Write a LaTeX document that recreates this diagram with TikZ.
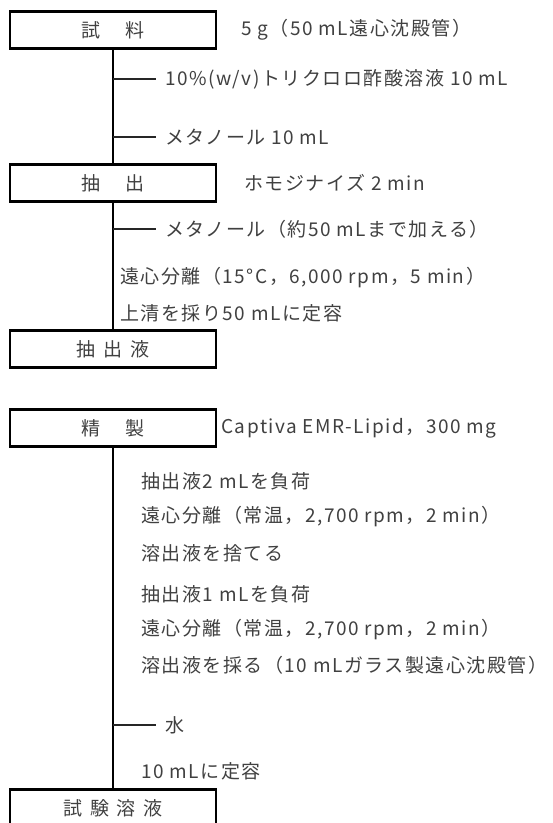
\documentclass[tikz,border=0pt]{standalone}
\usepackage{fontspec}
\setmainfont{Noto Sans CJK JP}[LetterSpace=8]
\definecolor{txtgray}{HTML}{404040}
\newcommand{\fs}{\fontsize{19bp}{22bp}\selectfont}
\begin{document}
\begin{tikzpicture}[x=1bp,y=-1bp,
  box/.style={draw=black, line width=2.2bp, minimum width=206bp, minimum height=37bp, inner sep=0pt, text=txtgray, font=\fs},
  lbl/.style={anchor=west, inner sep=0pt, text=txtgray, font=\fs},
  flow/.style={draw=black, line width=2.4bp},
  tick/.style={draw=black!85, line width=1.5bp}]
\useasboundingbox (0,0) rectangle (553,823);
\clip (0,0) rectangle (553,823);
% boxes
\node[box] (b1) at (113,30) {試\hspace{25bp}料};
\node[box] (b2) at (113,183) {抽\hspace{25bp}出};
\node[box] (b3) at (113,349) {抽\hspace{8bp}出\hspace{8bp}液};
\node[box] (b4) at (113,428) {精\hspace{25bp}製};
\node[box] (b5) at (113,808) {試\hspace{8bp}験\hspace{8bp}溶\hspace{8bp}液};
% main flow lines
\draw[flow] (b1.south) -- (b2.north);
\draw[flow] (b2.south) -- (b3.north);
\draw[flow] (b4.south) -- (b5.north);
% side labels
\node[lbl] (s1) at (241,30) {5 g（50 mL遠心沈殿管）};
\node[lbl] (s2) at (244,183) {ホモジナイズ 2 min};
\node[lbl] (s4) at (221,428) {Captiva EMR-Lipid，300 mg};
% additions
\coordinate (j1) at (113,79);
\node[lbl] (a1) at (165,79) {10\%(w/v)トリクロロ酢酸溶液 10 mL};
\draw[tick] (j1) -- ([xshift=-9bp]a1.west);
\coordinate (j2) at (113,137);
\node[lbl] (a2) at (165,137) {メタノール 10 mL};
\draw[tick] (j2) -- ([xshift=-9bp]a2.west);
\coordinate (j3) at (113,229);
\node[lbl] (a3) at (165,229) {メタノール（約50 mLまで加える）};
\draw[tick] (j3) -- ([xshift=-9bp]a3.west);
\coordinate (j4) at (113,725);
\node[lbl] (a4) at (165,725) {水};
\draw[tick] (j4) -- ([xshift=-9bp]a4.west);
% step texts
\node[lbl] (p1) at (120,278) {遠心分離（15°C，6,000 rpm，5 min）};
\node[lbl] (p2) at (120,313) {上清を採り50 mLに定容};
\node[lbl] (q1) at (141,481) {抽出液2 mLを負荷};
\node[lbl] (q2) at (141,517) {遠心分離（常温，2,700 rpm，2 min）};
\node[lbl] (q3) at (141,553) {溶出液を捨てる};
\node[lbl] (q4) at (141,594) {抽出液1 mLを負荷};
\node[lbl] (q5) at (141,630) {遠心分離（常温，2,700 rpm，2 min）};
\node[lbl] (q6) at (141,665) {溶出液を採る（10 mLガラス製遠心沈殿管）};
\node[lbl] (q7) at (141,771) {10 mLに定容};
\end{tikzpicture}
\end{document}
